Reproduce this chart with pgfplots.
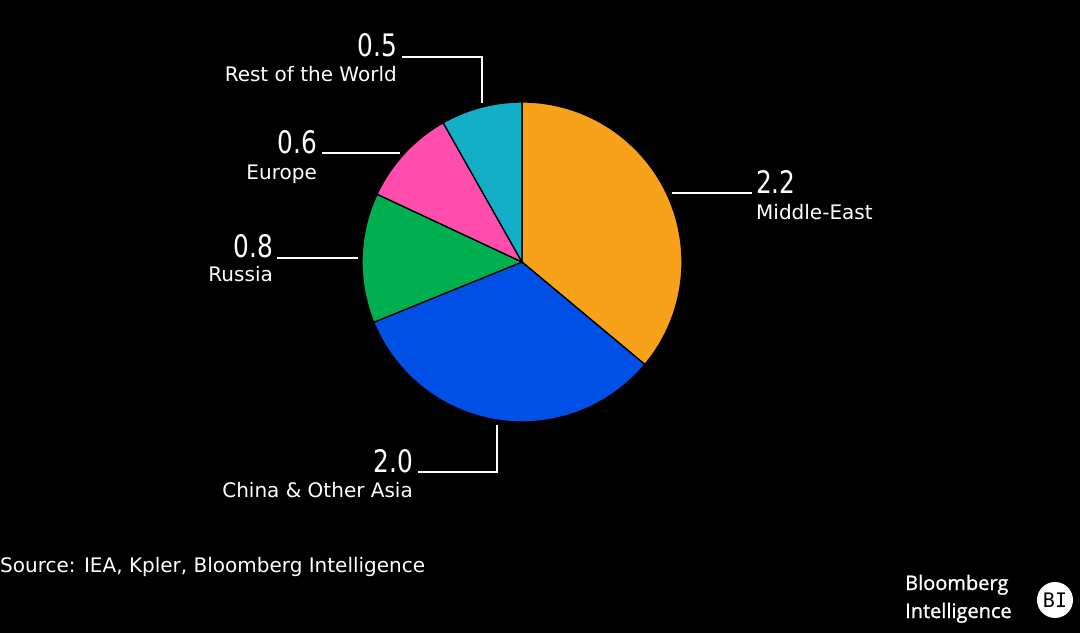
\documentclass[border=0pt]{standalone}
\usepackage{fontspec}
\setmainfont{DejaVu Sans}
\newfontfamily\numfont[FakeStretch=0.8]{DejaVu Sans}
\newfontfamily\logofont[FakeBold=1.2]{Open Sans}
\newfontfamily\monofont{DejaVu Sans Mono}
\usepackage{pgfplots}
\pgfplotsset{compat=1.18}
\definecolor{cME}{HTML}{F8A11B}
\definecolor{cCN}{HTML}{0050E6}
\definecolor{cRU}{HTML}{00B050}
\definecolor{cEU}{HTML}{FF4DAE}
\definecolor{cRW}{HTML}{12AFC6}
% values
\def\vME{2.2}\def\vCN{2.0}\def\vRU{0.8}\def\vEU{0.6}\def\vRW{0.5}
\pgfmathsetmacro\tot{\vME+\vCN+\vRU+\vEU+\vRW}
\pgfmathsetmacro\aA{90}
\pgfmathsetmacro\aB{\aA-\vME/\tot*360}
\pgfmathsetmacro\aC{\aB-\vCN/\tot*360}
\pgfmathsetmacro\aD{\aC-\vRU/\tot*360}
\pgfmathsetmacro\aE{\aD-\vEU/\tot*360}
\pgfmathsetmacro\aF{\aE-\vRW/\tot*360}
\newcommand\num{\numfont\fontsize{31}{31}\selectfont}
\newcommand\lab{\fontsize{20}{20}\selectfont}
\newcommand\slice[3]{\filldraw[fill=#3,draw=black,line width=1.3pt] (axis cs:522,371) -- ++(#1:160) arc[start angle=#1,end angle=#2,radius=160] -- cycle;}
\begin{document}
\begin{tikzpicture}
\begin{axis}[width=1080pt,height=633pt,scale only axis,
  xmin=0,xmax=1080,ymin=0,ymax=633,hide axis,clip=false]
\fill[black] (axis cs:0,0) rectangle (axis cs:1080,633);
\slice{\aA}{\aB}{cME}
\slice{\aB}{\aC}{cCN}
\slice{\aC}{\aD}{cRU}
\slice{\aD}{\aE}{cEU}
\slice{\aE}{\aF}{cRW}
% leader lines
\draw[white,line width=2pt] (axis cs:402,576) -- (axis cs:482,576) -- (axis cs:482,530);
\draw[white,line width=2pt] (axis cs:322,480) -- (axis cs:400,480);
\draw[white,line width=2pt] (axis cs:277,375) -- (axis cs:358,375);
\draw[white,line width=2pt] (axis cs:672,440) -- (axis cs:752,440);
\draw[white,line width=2pt] (axis cs:418,161) -- (axis cs:497,161) -- (axis cs:497,208);
% texts
\node[white,anchor=base east,inner sep=0pt] at (axis cs:397,576) {\num 0.5};
\node[white,anchor=base east,inner sep=0pt] at (axis cs:397,551) {\lab Rest of the World};
\node[white,anchor=base east,inner sep=0pt] at (axis cs:317,479) {\num 0.6};
\node[white,anchor=base east,inner sep=0pt] at (axis cs:317,453) {\lab Europe};
\node[white,anchor=base east,inner sep=0pt] at (axis cs:273,375) {\num 0.8};
\node[white,anchor=base east,inner sep=0pt] at (axis cs:273,351) {\lab Russia};
\node[white,anchor=base west,inner sep=0pt] at (axis cs:756,439) {\num 2.2};
\node[white,anchor=base west,inner sep=0pt] at (axis cs:756,413) {\lab Middle-East};
\node[white,anchor=base east,inner sep=0pt] at (axis cs:413,161) {\num 2.0};
\node[white,anchor=base east,inner sep=0pt] at (axis cs:413,136) {\lab China \& Other Asia};
\node[white,anchor=base west,inner sep=0pt] at (axis cs:0,61) {\lab Source: IEA, Kpler, Bloomberg Intelligence};
\node[white,anchor=base west,inner sep=0pt] at (axis cs:905,43) {\logofont\fontsize{20}{20}\selectfont Bloomberg};
\node[white,anchor=base west,inner sep=0pt] at (axis cs:905,15) {\logofont\fontsize{20}{20}\selectfont Intelligence};
\fill[white] (axis cs:1055,33) circle[radius=18];
\node[black,inner sep=0pt,anchor=base] at (axis cs:1055,26) {\monofont\fontsize{20}{20}\selectfont BI};
\end{axis}
\end{tikzpicture}
\end{document}
